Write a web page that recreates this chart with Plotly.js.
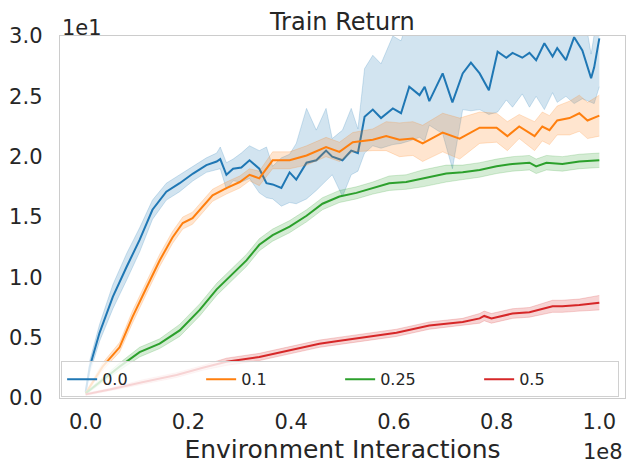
<!DOCTYPE html>
<html>
<head>
<meta charset="utf-8">
<script src="https://cdn.plot.ly/plotly-3.0.1.min.js"></script>
<style>
  body { margin: 0; background: #fff; }
  #chart { width: 634px; height: 474px; }
</style>
</head>
<body>
<div id="chart"></div>
<script>
// x in units of 1e8 interactions, y in units of 1e1 return (as the axes read)
var labels = ['0.0', '0.1', '0.25', '0.5'];
var colors = ['#1f77b4', '#ff7f0e', '#2ca02c', '#d62728'];
var bands = ['rgba(31,119,180,0.2)', 'rgba(255,127,14,0.2)', 'rgba(44,160,44,0.2)', 'rgba(214,39,40,0.2)'];
var edges = ['rgba(31,119,180,0.25)', 'rgba(255,127,14,0.25)', 'rgba(44,160,44,0.25)', 'rgba(214,39,40,0.25)'];

// 0.0
var blueX = [0, 0.008, 0.027, 0.053, 0.08, 0.105, 0.13, 0.157, 0.183, 0.209, 0.235, 0.255, 0.262, 0.274, 0.287,
  0.303, 0.319, 0.338, 0.352, 0.364, 0.381, 0.397, 0.41, 0.43, 0.449, 0.468, 0.48, 0.5, 0.517, 0.53,
  0.543, 0.559, 0.575, 0.598, 0.614, 0.63, 0.65, 0.66, 0.669, 0.695, 0.714, 0.734, 0.75, 0.767, 0.785,
  0.802, 0.819, 0.831, 0.85, 0.864, 0.877, 0.893, 0.909, 0.918, 0.935, 0.951, 0.967, 0.984, 0.99, 1.0];
var blueY = [0.05, 0.26, 0.54, 0.84, 1.09, 1.31, 1.56, 1.71, 1.78, 1.86, 1.93, 1.96, 1.98, 1.85, 1.90,
  1.91, 1.97, 1.90, 1.78, 1.77, 1.74, 1.87, 1.81, 1.95, 1.97, 2.05, 2.00, 1.97, 2.05, 2.03,
  2.33, 2.39, 2.32, 2.40, 2.36, 2.58, 2.51, 2.58, 2.46, 2.69, 2.45, 2.69, 2.78, 2.69, 2.55,
  2.87, 2.82, 2.86, 2.82, 2.86, 2.80, 2.94, 2.83, 2.90, 2.80, 2.99, 2.88, 2.65, 2.74, 2.98];
var blueDown = [0.02, 0.05, 0.07, 0.10, 0.11, 0.10, 0.08, 0.07, 0.07, 0.06, 0.06, 0.07, 0.08, 0.12, 0.10,
  0.12, 0.15, 0.20, 0.12, 0.12, 0.15, 0.25, 0.20, 0.30, 0.25, 0.25, 0.15, 0.30, 0.20, 0.15,
  0.30, 0.30, 0.25, 0.30, 0.25, 0.45, 0.35, 0.45, 0.20, 0.50, 0.55, 0.30, 0.40, 0.30, 0.20,
  0.50, 0.35, 0.45, 0.30, 0.45, 0.30, 0.55, 0.30, 0.45, 0.30, 0.55, 0.40, 0.20, 0.30, 0.40];
var blueUp = [0.02, 0.05, 0.07, 0.10, 0.11, 0.10, 0.08, 0.07, 0.07, 0.06, 0.06, 0.07, 0.10, 0.10, 0.08,
  0.12, 0.12, 0.15, 0.30, 0.15, 0.25, 0.15, 0.30, 0.45, 0.25, 0.35, 0.15, 0.25, 0.35, 0.20,
  0.40, 0.45, 0.45, 0.60, 0.60, 0.60, 0.60, 0.60, 0.60, 0.60, 0.60, 0.60, 0.50, 0.50, 0.50,
  0.50, 0.50, 0.50, 0.50, 0.50, 0.50, 0.50, 0.50, 0.50, 0.50, 0.40, 0.40, 0.20, 0.25, 0.30];

// 0.1
var orangeX = [0, 0.033, 0.066, 0.091, 0.119, 0.144, 0.169, 0.189, 0.208, 0.222, 0.247, 0.274, 0.3, 0.319, 0.338,
  0.364, 0.397, 0.43, 0.468, 0.494, 0.52, 0.559, 0.585, 0.611, 0.637, 0.656, 0.695, 0.728, 0.767, 0.8,
  0.821, 0.844, 0.874, 0.889, 0.903, 0.918, 0.942, 0.961, 0.977, 1.0];
var orangeY = [0.04, 0.26, 0.42, 0.67, 0.92, 1.14, 1.33, 1.45, 1.49, 1.56, 1.68, 1.74, 1.79, 1.85, 1.82,
  1.97, 1.97, 2.01, 2.08, 2.04, 2.12, 2.14, 2.17, 2.14, 2.15, 2.11, 2.20, 2.15, 2.24, 2.24,
  2.17, 2.25, 2.17, 2.25, 2.22, 2.30, 2.32, 2.36, 2.30, 2.34];
var orangeSpread = [0.01, 0.03, 0.04, 0.05, 0.05, 0.05, 0.05, 0.05, 0.05, 0.05, 0.05, 0.05, 0.05, 0.05, 0.06,
  0.07, 0.07, 0.08, 0.08, 0.08, 0.08, 0.09, 0.12, 0.14, 0.14, 0.15, 0.16, 0.17, 0.13, 0.12,
  0.12, 0.10, 0.12, 0.12, 0.12, 0.12, 0.14, 0.15, 0.15, 0.17];

// 0.25
var greenX = [0, 0.066, 0.105, 0.144, 0.183, 0.222, 0.255, 0.286, 0.313, 0.338, 0.364, 0.397, 0.43, 0.461, 0.494,
  0.527, 0.559, 0.591, 0.624, 0.656, 0.702, 0.734, 0.767, 0.8, 0.831, 0.864, 0.877, 0.897, 0.928, 0.961, 1.0];
var greenY = [0.04, 0.26, 0.38, 0.45, 0.56, 0.73, 0.90, 1.03, 1.14, 1.27, 1.35, 1.42, 1.51, 1.61, 1.67,
  1.70, 1.74, 1.78, 1.79, 1.82, 1.86, 1.87, 1.89, 1.92, 1.94, 1.95, 1.92, 1.95, 1.94, 1.96, 1.97];
var greenSpread = [0.01, 0.03, 0.04, 0.04, 0.05, 0.05, 0.05, 0.05, 0.05, 0.05, 0.05, 0.05, 0.05, 0.05, 0.05,
  0.05, 0.05, 0.06, 0.06, 0.07, 0.07, 0.06, 0.06, 0.06, 0.06, 0.06, 0.06, 0.06, 0.06, 0.06, 0.06];

// 0.5
var redX = [0, 0.047, 0.11, 0.177, 0.228, 0.274, 0.338, 0.403, 0.455, 0.488, 0.539, 0.605, 0.669, 0.734, 0.767,
  0.776, 0.79, 0.831, 0.864, 0.909, 0.928, 0.961, 1.0];
var redY = [0.03, 0.07, 0.13, 0.19, 0.25, 0.30, 0.34, 0.40, 0.45, 0.47, 0.50, 0.54, 0.60, 0.63, 0.66,
  0.68, 0.66, 0.70, 0.71, 0.76, 0.76, 0.77, 0.79];
var redSpread = [0.01, 0.01, 0.02, 0.02, 0.02, 0.03, 0.03, 0.03, 0.03, 0.03, 0.03, 0.03, 0.03, 0.03, 0.04,
  0.04, 0.04, 0.04, 0.04, 0.05, 0.05, 0.05, 0.06];

var series = [
  {x: blueX, y: blueY, dn: blueDown, up: blueUp},
  {x: orangeX, y: orangeY, dn: orangeSpread, up: orangeSpread},
  {x: greenX, y: greenY, dn: greenSpread, up: greenSpread},
  {x: redX, y: redY, dn: redSpread, up: redSpread}
];

var data = [];
series.forEach(function (s, i) {
  var lo = s.y.map(function (v, k) { return v - s.dn[k]; });
  var hi = s.y.map(function (v, k) { return v + s.up[k]; });
  data.push({x: s.x, y: lo, mode: 'lines', line: {color: edges[i], width: 0.8},
    showlegend: false, hoverinfo: 'skip'});
  data.push({x: s.x, y: hi, mode: 'lines', fill: 'tonexty', fillcolor: bands[i],
    line: {color: edges[i], width: 0.8}, showlegend: false, hoverinfo: 'skip'});
  data.push({x: s.x, y: s.y, mode: 'lines', name: labels[i],
    line: {color: colors[i], width: 2}});
});

var txt = '#262626';
var layout = {
  width: 634, height: 474,
  margin: {l: 60, r: 9, t: 36, b: 76},
  paper_bgcolor: '#fff', plot_bgcolor: '#fff',
  font: {family: 'DejaVu Sans', color: txt, size: 21},
  title: {text: 'Train Return', font: {size: 24, color: txt}, x: 0.54, xanchor: 'center',
    y: 0.955, yanchor: 'middle'},
  xaxis: {
    range: [-0.05, 1.05], dtick: 0.2, tick0: 0, tickformat: '.1f',
    showgrid: false, zeroline: false, showline: true, mirror: true,
    linecolor: '#cccccc', linewidth: 1.3, ticks: '', ticklabelstandoff: 4,
    title: {text: 'Environment Interactions', font: {size: 25}, standoff: 8}
  },
  yaxis: {
    range: [0, 3], dtick: 0.5, tick0: 0, tickformat: '.1f',
    showgrid: false, zeroline: false, showline: true, mirror: true,
    linecolor: '#cccccc', linewidth: 1.3, ticks: '', ticklabelstandoff: 12
  },
  legend: {
    orientation: 'h', x: 0.002, y: 0.002, xanchor: 'left', yanchor: 'bottom',
    bgcolor: 'rgba(255,255,255,0.8)', bordercolor: '#d0d0d0', borderwidth: 1,
    font: {size: 16, color: txt}, entrywidth: 94, entrywidthmode: 'pixels',
    traceorder: 'normal'
  },
  annotations: [
    {text: '1e1', xref: 'paper', yref: 'paper', x: 0, y: 1, xanchor: 'left', yanchor: 'bottom',
      showarrow: false, font: {size: 21, color: txt}, yshift: -6},
    {text: '1e8', xref: 'paper', yref: 'paper', x: 1, y: 0, xanchor: 'right', yanchor: 'top',
      showarrow: false, font: {size: 21, color: txt}, yshift: -40}
  ],
  showlegend: true
};

Plotly.newPlot('chart', data, layout, {displayModeBar: false, staticPlot: true});
</script>
</body>
</html>
